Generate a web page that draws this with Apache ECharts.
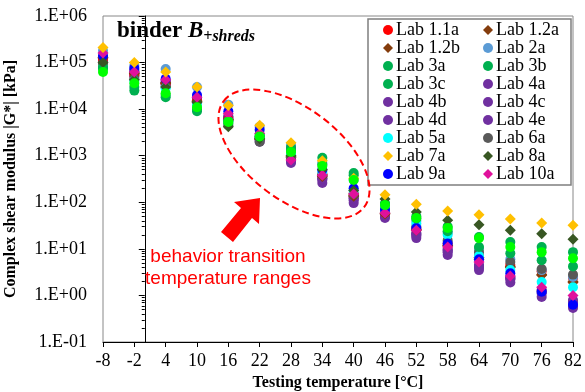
<!DOCTYPE html>
<html>
<head>
<meta charset="utf-8">
<script src="https://cdn.jsdelivr.net/npm/echarts@6/dist/echarts.min.js"></script>
<style>
  html, body { margin: 0; padding: 0; background: #fff; }
  #chart { width: 585px; height: 392px; }
</style>
</head>
<body>
<div id="chart"></div>
<script>
// testing temperatures (x)
const temps = [-8, -2, 4, 10, 16, 22, 28, 34, 40, 46, 52, 58, 64, 70, 76, 82];

// |G*| in kPa
const lab11a = [120000, 55000, 35000, 15000, 6000, 2500, 1000, 400, 150, 60, 27, 13, 7, 4.5, 3.3, 2.4];
const lab12a = [130000, 60000, 37000, 15000, 6000, 2300, 950, 380, 140, 58, 26, 12, 6.5, 4.2, 2.8, 1.9];
const lab12b = [125000, 58000, 36000, 14500, 5800, 2200, 900, 360, 135, 56, 25, 11.5, 6, 4, 2.7, 2.0];
const lab2a = [180000, 85000, 73000, 30000, 12500, 4200, 1700, 700, 300, 90, 40, 22, 10, 6, 3.5, 2.5];
const lab3a = [80000, 25000, 18000, 9000, 5000, 2600, 1300, 900, 425, 95, 50, 30, 18, 14, 11, 8.5];
const lab3b = [75000, 30000, 20000, 10000, 5500, 2800, 1500, 650, 380, 90, 45, 24, 11, 8, 5.7, 4.2];
const lab3c = [63000, 36000, 22000, 11000, 5300, 2600, 1200, 600, 300, 87, 46, 28, 17, 11, 8.5, 6.3];
const lab4a = [130000, 70000, 40000, 17000, 6500, 2200, 700, 260, 96, 46, 17, 7.4, 3.5, 1.9, 0.93, 0.54];
const lab4b = [110000, 60000, 35000, 15000, 6000, 2000, 750, 300, 110, 50, 19, 8.5, 4, 2.2, 1.1, 0.6];
const lab4c = [120000, 55000, 38000, 16000, 7000, 2500, 900, 350, 130, 55, 22, 10, 4.5, 2.5, 1.3, 0.8];
const lab4d = [100000, 50000, 33000, 14000, 6200, 2300, 800, 320, 120, 52, 21, 9, 4.2, 2.3, 1.2, 0.7];
const lab4e = [115000, 65000, 36000, 15500, 6800, 2400, 850, 330, 125, 54, 20, 9.5, 4.3, 2.4, 1.25, 0.75];
const lab5a = [76000, 40000, 28000, 12000, 5500, 2500, 1100, 450, 180, 70, 35, 20, 7, 3.5, 1.95, 1.5];
const lab6a = [95000, 45000, 30000, 13000, 4500, 2000, 900, 400, 150, 65, 30, 15, 8.5, 5.2, 3.7, 2.8];
const lab7a = [210000, 100000, 63000, 30000, 12000, 4500, 1900, 780, 330, 145, 91, 65, 54, 44, 36, 32];
const lab8a = [100000, 43000, 30000, 14000, 4200, 2300, 1000, 500, 180, 118, 62, 41, 33, 25, 21, 16];
const lab9a = [140000, 76000, 45000, 20000, 9000, 3600, 1400, 500, 200, 70, 28, 13, 6, 3, 1.2, 0.63];
const lab10a = [160000, 63000, 43000, 18000, 8000, 3000, 810, 380, 150, 59, 25, 11, 5.2, 2.6, 1.5, 1.0];

// drawing order (first = bottom)
const labs = [
  { name: 'Lab 4a', vals: lab4a, color: '#7030A0', sym: 'circle' },
  { name: 'Lab 4b', vals: lab4b, color: '#7030A0', sym: 'circle' },
  { name: 'Lab 4c', vals: lab4c, color: '#7030A0', sym: 'circle' },
  { name: 'Lab 4d', vals: lab4d, color: '#7030A0', sym: 'circle' },
  { name: 'Lab 4e', vals: lab4e, color: '#7030A0', sym: 'circle' },
  { name: 'Lab 1.1a', vals: lab11a, color: '#FF0000', sym: 'circle' },
  { name: 'Lab 1.2a', vals: lab12a, color: '#843C0C', sym: 'diamond' },
  { name: 'Lab 1.2b', vals: lab12b, color: '#843C0C', sym: 'diamond' },
  { name: 'Lab 2a', vals: lab2a, color: '#5B9BD5', sym: 'circle' },
  { name: 'Lab 6a', vals: lab6a, color: '#595959', sym: 'circle' },
  { name: 'Lab 5a', vals: lab5a, color: '#00FFFF', sym: 'circle' },
  { name: 'Lab 9a', vals: lab9a, color: '#0000FF', sym: 'circle' },
  { name: 'Lab 3a', vals: lab3a, color: '#00B050', sym: 'circle' },
  { name: 'Lab 3b', vals: lab3b, color: '#00B050', sym: 'circle' },
  { name: 'Lab 8a', vals: lab8a, color: '#385723', sym: 'diamond' },
  { name: 'Lab 10a', vals: lab10a, color: '#E0119C', sym: 'diamond' },
  { name: 'Lab 7a', vals: lab7a, color: '#FFC000', sym: 'diamond' },
  { name: 'Lab 3c', vals: lab3c, color: '#00FF00', sym: 'circle' }
];

const legendCol1 = ['Lab 1.1a', 'Lab 1.2b', 'Lab 3a', 'Lab 3c', 'Lab 4b', 'Lab 4d', 'Lab 5a', 'Lab 7a', 'Lab 9a'];
const legendCol2 = ['Lab 1.2a', 'Lab 2a', 'Lab 3b', 'Lab 4a', 'Lab 4c', 'Lab 4e', 'Lab 6a', 'Lab 8a', 'Lab 10a'];

const serif = 'Liberation Serif';

function legendItem(name) {
  const lab = labs.find(l => l.name === name);
  const item = { name: name, icon: lab.sym };
  // legend shows 3c in the same green as 3a/3b
  if (name === 'Lab 3c') item.itemStyle = { color: '#00B050' };
  return item;
}

function makeLegend(names, left) {
  return {
    orient: 'vertical',
    left: left,
    top: 21,
    itemWidth: 10,
    itemHeight: 10,
    itemGap: 0,
    selectedMode: false,
    padding: 0,
    textStyle: { fontFamily: serif, fontSize: 18, color: '#000', lineHeight: 18, padding: [0, 0, 0, -2] },
    data: names.map(legendItem)
  };
}

function sciLabel(v) {
  const e = Math.round(Math.log10(v));
  const s = e < 0 ? '-' : '+';
  const a = Math.abs(e);
  return '1.E' + s + (a < 10 ? '0' + a : a);
}

// red block arrow pointing at the dashed ellipse
const arrowPts = [[260, 198], [259, 224], [252, 218], [233, 242], [221, 232], [241, 208], [234, 202]];

const chart = echarts.init(document.getElementById('chart'));

const option = {
  animation: false,
  grid: {
    left: 103, right: 12, top: 16, bottom: 50,
    outerBoundsMode: 'none',
    containLabel: false,
    show: true, borderColor: '#888', borderWidth: 1
  },
  legend: [makeLegend(legendCol1, 383), makeLegend(legendCol2, 483)],
  xAxis: {
    type: 'value',
    min: -8, max: 82, interval: 6,
    name: 'Testing temperature [°C]',
    nameLocation: 'middle',
    nameGap: 32,
    nameTextStyle: { fontFamily: serif, fontSize: 16, fontWeight: 'bold', color: '#000' },
    axisLine: { lineStyle: { color: '#000', width: 1 } },
    axisTick: { length: 5, lineStyle: { color: '#000' } },
    axisLabel: { fontFamily: serif, fontSize: 18, color: '#000', margin: 10 },
    splitLine: { show: false }
  },
  yAxis: {
    type: 'log',
    logBase: 10,
    min: 0.1, max: 1000000,
    name: 'Complex shear modulus |G*| [kPa]',
    nameLocation: 'middle',
    nameGap: 84,
    nameTextStyle: { fontFamily: serif, fontSize: 16, fontWeight: 'bold', color: '#000' },
    axisLine: { show: true, lineStyle: { color: '#000', width: 1 } },
    axisTick: { show: true, length: 6, lineStyle: { color: '#000' } },
    minorTick: { show: true, splitNumber: 9, length: 3, lineStyle: { color: '#000' } },
    axisLabel: { fontFamily: serif, fontSize: 18, color: '#000', margin: 16, formatter: sciLabel },
    splitLine: { show: false }
  },
  graphic: [
    {
      type: 'rect',
      shape: { x: 368, y: 19, width: 203, height: 166 },
      style: { fill: '#fff', stroke: '#7f7f7f', lineWidth: 1.5 },
      z: 1
    },
    {
      type: 'text',
      left: 117, top: 20,
      style: {
        text: '{a|binder }{b|B}{c|+shreds}',
        rich: {
          a: { fontFamily: serif, fontSize: 23, fontWeight: 'bold', fill: '#000' },
          b: { fontFamily: serif, fontSize: 23, fontWeight: 'bold', fontStyle: 'italic', fill: '#000' },
          c: { fontFamily: serif, fontSize: 16, fontWeight: 'bold', fontStyle: 'italic', fill: '#000', padding: [11, 0, 0, 0] }
        }
      },
      z: 10
    },
    {
      type: 'ellipse',
      shape: { cx: 294, cy: 154, rx: 88, ry: 46 },
      rotation: -37 * Math.PI / 180,
      originX: 294, originY: 154,
      style: { fill: 'none', stroke: '#FF0000', lineWidth: 2, lineDash: [7, 4] },
      z: 10
    },
    {
      type: 'polygon',
      shape: { points: arrowPts },
      style: { fill: '#FF0000' },
      z: 10
    },
    {
      type: 'text',
      x: 228, y: 268,
      style: {
        text: 'behavior transition\ntemperature ranges',
        fontFamily: 'Liberation Sans', fontSize: 19, fill: '#FF0000',
        align: 'center', verticalAlign: 'middle', lineHeight: 22
      },
      z: 10
    }
  ],
  series: labs.map(l => ({
    name: l.name,
    type: 'scatter',
    symbol: l.sym,
    symbolSize: l.sym === 'diamond' ? 11 : 10,
    itemStyle: { color: l.color, opacity: 1 },
    data: temps.map((t, i) => [t, l.vals[i]]),
    z: 3
  }))
};

chart.setOption(option);
</script>
</body>
</html>
